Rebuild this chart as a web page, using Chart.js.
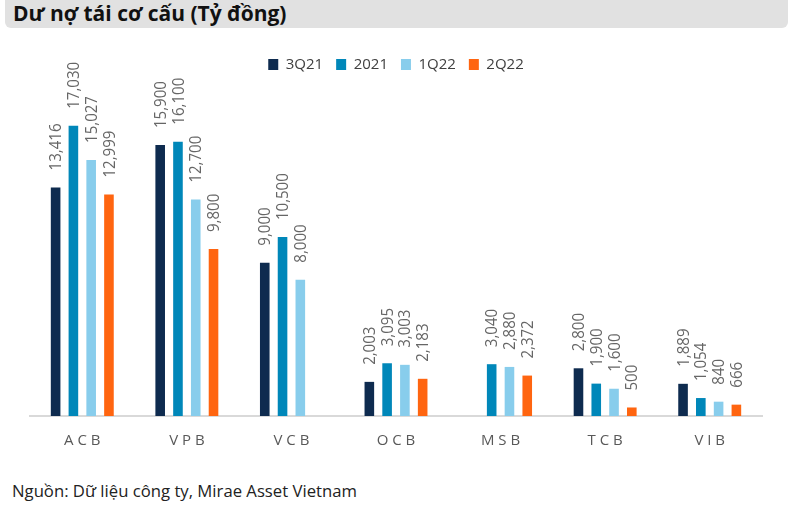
<!DOCTYPE html>
<html>
<head>
<meta charset="utf-8">
<script src="https://cdn.jsdelivr.net/npm/chart.js@4/dist/chart.umd.min.js"></script>
<style>
  body { margin: 0; background: #fff; font-family: "Open Sans", sans-serif; }
  #wrap { position: relative; width: 794px; height: 506px; overflow: hidden; }
  #title {
    position: absolute; left: 5px; top: -6px; width: 783px; height: 34px;
    background: #e1e1e1; border-radius: 6px;
    font-weight: bold; font-size: 21px; color: #111; line-height: 38px; padding-left: 8px; box-sizing: border-box;
  }
  #chart-box { position: absolute; left: 0; top: 44px; width: 794px; height: 414px; }
  #source { position: absolute; left: 12px; top: 479px; font-size: 16.7px; color: #222; }
</style>
</head>
<body>
<div id="wrap">
  <div id="title">Dư nợ tái cơ cấu (Tỷ đồng)</div>
  <div id="chart-box"><canvas id="debt-chart"></canvas></div>
  <div id="source">Nguồn: Dữ liệu công ty, Mirae Asset Vietnam</div>
</div>
<script>
// Data
const banks = ['ACB', 'VPB', 'VCB', 'OCB', 'MSB', 'TCB', 'VIB'];
const q3_21 = [13416, 15900, 9000, 2003, null, 2800, 1889];
const y2021 = [17030, 16100, 10500, 3095, 3040, 1900, 1054];
const q1_22 = [15027, 12700, 8000, 3003, 2880, 1600, 840];
const q2_22 = [12999, 9800, null, 2183, 2372, 500, 666];

// rotated value labels above each bar
const valueLabels = {
  id: 'valueLabels',
  afterDatasetsDraw(chart) {
    const ctx = chart.ctx;
    ctx.save();
    ctx.font = '16px "Open Sans", sans-serif';
    ctx.fillStyle = '#666666';
    ctx.textAlign = 'left';
    ctx.textBaseline = 'middle';
    chart.data.datasets.forEach((ds, i) => {
      chart.getDatasetMeta(i).data.forEach((bar, j) => {
        const v = ds.data[j];
        if (v == null) return;
        ctx.save();
        ctx.translate(bar.x + 1, bar.y - 17);
        ctx.rotate(-Math.PI / 2);
        ctx.scale(0.94, 1);
        ctx.fillText(v.toLocaleString('en-US'), 0, 0);
        ctx.restore();
      });
    });
    ctx.restore();
  }
};

new Chart(document.getElementById('debt-chart'), {
  type: 'bar',
  data: {
    labels: banks,
    datasets: [
      { label: '3Q21', data: q3_21, backgroundColor: '#0e2b4f' },
      { label: '2021', data: y2021, backgroundColor: '#0087b9' },
      { label: '1Q22', data: q1_22, backgroundColor: '#88cdec' },
      { label: '2Q22', data: q2_22, backgroundColor: '#ff6510' }
    ]
  },
  options: {
    responsive: true, maintainAspectRatio: false, animation: false,
    categoryPercentage: 0.68, barPercentage: 0.54,
    layout: { padding: { left: 30, right: 32, top: 0, bottom: 0 } },
    plugins: {
      legend: {
        position: 'top',
        labels: { color: '#404040', font: { size: 15, family: '"Open Sans", sans-serif' }, boxWidth: 10, boxHeight: 11, padding: 13 }
      },
      tooltip: { enabled: false }
    },
    scales: {
      x: {
        grid: { display: false },
        border: { display: true, color: '#d9d9d9', width: 2 },
        ticks: {
          color: '#595959', padding: 8,
          font: { size: 15, family: '"Open Sans", sans-serif' },
          callback: function (v) { return this.getLabelForValue(v).split('').join(' '); }
        }
      },
      y: { display: false, min: 0, max: 19600 }
    }
  },
  plugins: [valueLabels]
});
</script>
</body>
</html>
